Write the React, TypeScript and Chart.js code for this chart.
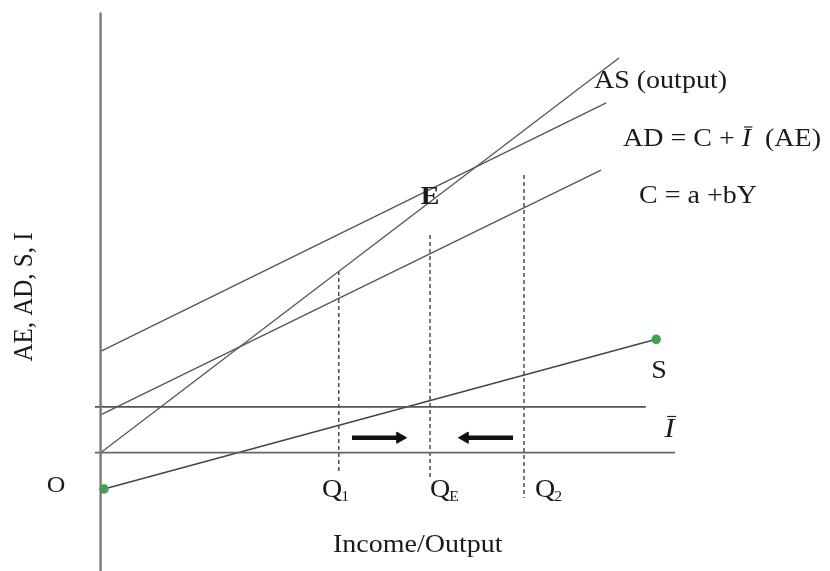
import React, { useEffect, useRef } from "react";
import { Chart, registerables } from "chart.js";
Chart.register(...registerables);

// Axis ranges (data units)
const xRange = [-2.515, 18.235];
const yRange = [-3.943, 15.09];

// Lines: [x, y] pairs in data units
const axisVertical = [[0, 14.67], [0, -3.95]];
const axisHorizontal = [[-0.14, 0], [14.36, 0]];
const investmentLine = [[-0.14, 1.53], [13.63, 1.53]];
const asLine = [[0, 0], [12.96, 13.16]];
const adLine = [[0, 3.38], [12.64, 11.66]];
const cLine = [[0, 1.26], [12.51, 9.42]];
const sLine = [[0.085, -1.21], [13.89, 3.78]];
const q1Line = [[5.955, 6.06], [5.955, -0.68]];
const qeLine = [[8.235, 7.26], [8.235, -0.91]];
const q2Line = [[10.585, 9.26], [10.585, -1.51]];
const arrowRight = [[6.285, 0.5], [7.485, 0.5]];
const arrowLeft = [[10.31, 0.5], [9.11, 0.5]];

const SX = 1.12;
const FS = 25;
const FONT = "'Liberation Serif', 'Times New Roman', serif";

const pts = (arr: number[][]) => arr.map(([x, y]) => ({ x, y }));

function txt(ctx: CanvasRenderingContext2D, s: string, x: number, y: number, font: string, align: CanvasTextAlign = "left") {
  ctx.save();
  ctx.font = font;
  ctx.translate(x, y);
  ctx.scale(SX, 1);
  ctx.textAlign = align;
  ctx.textBaseline = "alphabetic";
  ctx.fillText(s, 0, 0);
  ctx.restore();
}
function w(ctx: CanvasRenderingContext2D, s: string, font: string) {
  ctx.save();
  ctx.font = font;
  const m = ctx.measureText(s).width * SX;
  ctx.restore();
  return m;
}
function iBar(ctx: CanvasRenderingContext2D, x: number, y: number, size: number) {
  const f = `italic ${size}px ${FONT}`;
  txt(ctx, "I", x, y, f);
  const iw = w(ctx, "I", f);
  ctx.save();
  ctx.strokeStyle = "#222";
  ctx.lineWidth = 1.2;
  ctx.beginPath();
  const top = y - size * 0.76;
  ctx.moveTo(x + iw * 0.25, top);
  ctx.lineTo(x + iw * 1.15, top);
  ctx.stroke();
  ctx.restore();
  return iw;
}
function q(ctx: CanvasRenderingContext2D, sub: string, x: number, y: number) {
  const f = `${FS}px ${FONT}`;
  txt(ctx, "Q", x, y, f);
  const qw = w(ctx, "Q", f);
  txt(ctx, sub, x + qw - 1, y + 4, `14px ${FONT}`);
}

const labelsPlugin = {
  id: "labels",
  afterDatasetsDraw(chart: any) {
    const ctx: CanvasRenderingContext2D = chart.ctx;
    const xs = chart.scales.x;
    const ys = chart.scales.y;
    const X = (v: number) => xs.getPixelForValue(v);
    const Y = (v: number) => ys.getPixelForValue(v);
    ctx.save();
    ctx.fillStyle = "#1a1a1a";
    const f = `${FS}px ${FONT}`;
    txt(ctx, "AS (output)", X(12.335), Y(12.157), f);
    // AD = C + I (AE)
    let px = X(13.06);
    const py = Y(10.223);
    txt(ctx, "AD = C + ", px, py, f);
    px += w(ctx, "AD = C + ", f);
    px += iBar(ctx, px, py, FS);
    px += w(ctx, "  ", f);
    txt(ctx, "(AE)", px, py, f);
    txt(ctx, "C = a +bY", X(13.46), Y(8.323), f);
    txt(ctx, "E", X(8.235), Y(8.29), `bold 25px ${FONT}`, "center");
    txt(ctx, "S", X(13.96), Y(2.49), f, "center");
    iBar(ctx, X(14.1), Y(0.523), 27);
    txt(ctx, "O", X(-1.115), Y(-1.31), `23px ${FONT}`, "center");
    q(ctx, "1", X(5.535), Y(-1.477));
    q(ctx, "E", X(8.235), Y(-1.477));
    q(ctx, "2", X(10.86), Y(-1.477));
    txt(ctx, "Income/Output", X(5.81), Y(-3.31), f);
    // y axis title
    ctx.save();
    ctx.translate(X(-1.89), Y(5.19));
    ctx.rotate(-Math.PI / 2);
    ctx.scale(1, SX);
    ctx.font = `${FS}px ${FONT}`;
    ctx.textAlign = "center";
    ctx.textBaseline = "middle";
    ctx.fillText("AE, AD, S, I", 0, 0);
    ctx.restore();
    ctx.restore();
  },
};

export default function App() {
  const ref = useRef<HTMLCanvasElement>(null);
  useEffect(() => {
    if (!ref.current) return;
    const solid = (data: number[][], color: string, width: number) => ({
      data: pts(data),
      borderColor: color,
      borderWidth: width,
      showLine: true,
      pointRadius: 0,
      fill: false,
    });
    const dashed = (data: number[][]) => ({
      ...solid(data, "#333", 1.3),
      borderDash: [4, 3],
    });
    const arrow = (data: number[][], rot: number) => ({
      ...solid(data, "#111", 4.5),
      pointRadius: [0, 6.5],
      pointStyle: "triangle",
      rotation: rot,
      pointBackgroundColor: "#111",
      pointBorderColor: "#111",
      pointBorderWidth: 1,
    });
    const chart = new Chart(ref.current, {
      type: "scatter",
      data: {
        datasets: [
          solid(axisVertical, "#7a7a7a", 2.4),
          solid(axisHorizontal, "#666", 1.8),
          solid(investmentLine, "#555", 1.8),
          solid(asLine, "#555", 1.3),
          solid(adLine, "#555", 1.3),
          solid(cLine, "#555", 1.3),
          {
            ...solid(sLine, "#444", 1.5),
            pointRadius: 4,
            pointBackgroundColor: "#3aa64a",
            pointBorderColor: "#3aa64a",
          },
          dashed(q1Line),
          dashed(qeLine),
          dashed(q2Line),
          arrow(arrowRight, 90),
          arrow(arrowLeft, 270),
        ] as any,
      },
      options: {
        responsive: false,
        animation: false,
        layout: { padding: 0, autoPadding: false },
        plugins: { legend: { display: false }, tooltip: { enabled: false } },
        scales: {
          x: { type: "linear", min: xRange[0], max: xRange[1], display: false },
          y: { type: "linear", min: yRange[0], max: yRange[1], display: false },
        },
      },
      plugins: [labelsPlugin],
    });
    return () => chart.destroy();
  }, []);
  return (
    <div style={{ position: "absolute", left: 0, top: 0, width: 830, height: 571, background: "#fff" }}>
      <canvas ref={ref} width={830} height={571} style={{ width: 830, height: 571, display: "block" }} />
    </div>
  );
}
